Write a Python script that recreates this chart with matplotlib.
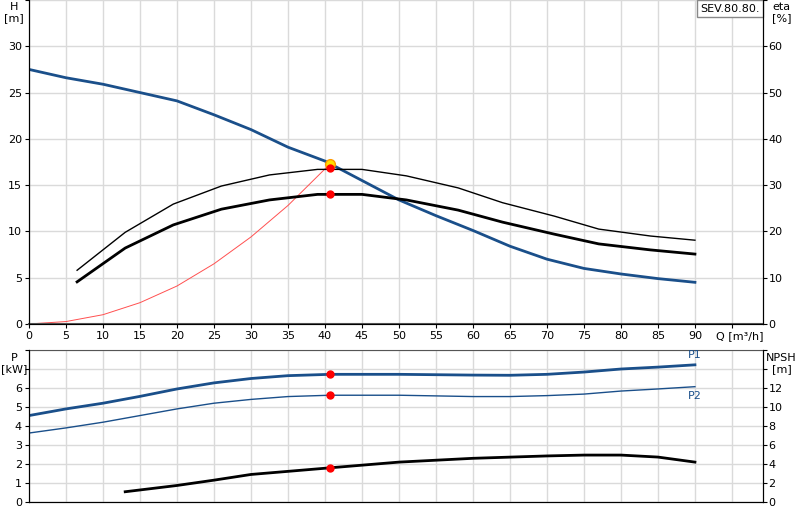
import matplotlib.pyplot as plt

# Q [m3/h]
q_h = [0, 5, 10, 15, 20, 25, 30, 35, 40, 45, 50, 55, 60, 65, 70, 75, 80, 85, 90]
h = [27.5, 26.6, 25.9, 25.0, 24.1, 22.6, 21.0, 19.1, 17.6, 15.5, 13.4, 11.7, 10.1, 8.4, 7.0, 6.0, 5.4, 4.9, 4.5]

q_eta = [6.5, 13, 19.5, 26, 32.5, 39, 45, 51, 58, 64, 71, 77, 84, 90]
eta_pump = [11.6, 19.8, 25.9, 29.8, 32.2, 33.4, 33.4, 32.0, 29.4, 26.2, 23.3, 20.5, 19.0, 18.1]
eta_tot = [9.1, 16.4, 21.4, 24.8, 26.8, 28.0, 28.0, 26.8, 24.6, 22.0, 19.4, 17.3, 16.0, 15.1]

q_sys = [0, 5, 10, 15, 20, 25, 30, 35, 40.7]
h_sys = [0, 0.26, 1.0, 2.3, 4.1, 6.5, 9.4, 12.8, 17.3]

q_p = [0, 5, 10, 15, 20, 25, 30, 35, 40.7, 50, 60, 65, 70, 75, 80, 85, 90]
p1 = [4.55, 4.9, 5.2, 5.56, 5.95, 6.27, 6.5, 6.65, 6.72, 6.72, 6.68, 6.67, 6.72, 6.84, 7.0, 7.1, 7.22]
p2 = [3.63, 3.9, 4.2, 4.55, 4.9, 5.2, 5.4, 5.55, 5.62, 5.62, 5.55, 5.55, 5.6, 5.68, 5.84, 5.95, 6.07]

q_npsh = [13, 20, 25, 30, 40.7, 50, 60, 70, 75, 80, 85, 90]
npsh = [1.08, 1.74, 2.3, 2.9, 3.6, 4.2, 4.6, 4.85, 4.94, 4.94, 4.73, 4.2]

duty_q = 40.7
duty_h = 17.3
duty_eta = [33.8, 28.1]
duty_p = [6.72, 5.62]
duty_npsh = 3.6

blue = '#1a4f8a'
grid = '#dadada'
plt.rcParams['font.family'] = 'DejaVu Sans'
plt.rcParams['font.size'] = 8

fig = plt.figure(figsize=(8, 5.2), dpi=100)
ax = fig.add_axes([0.03625, 0.377, 0.9175, 0.623])
ax2 = ax.twinx()
bx = fig.add_axes([0.03625, 0.0346, 0.9175, 0.2923])
bx2 = bx.twinx()

# curvas superiores
ax.set_xlim(0, 99.2)
ax.set_ylim(0, 35)
ax2.set_ylim(0, 70)
ax.set_xticks(range(0, 100, 5))
ax.set_xticklabels([str(v) for v in range(0, 95, 5)] + [''])
ax.set_yticks(range(0, 36, 5))
ax.set_yticklabels([str(v) for v in range(0, 35, 5)] + [''])
ax2.set_yticks(range(0, 71, 10))
ax2.set_yticklabels([str(v) for v in range(0, 70, 10)] + [''])
ax.grid(True, color=grid, linewidth=1)
ax.set_axisbelow(True)
ax.spines['top'].set_visible(False)
ax2.spines['top'].set_visible(False)
ax.spines['bottom'].set_color('#555555')
ax.spines['bottom'].set_linewidth(1.5)
ax.tick_params(length=3, pad=2)
ax2.tick_params(length=3, pad=1)

ax.plot(q_sys, h_sys, color='#ff5050', linewidth=0.7)
ax.plot(q_h, h, color=blue, linewidth=2)
ax2.plot(q_eta, eta_pump, color='black', linewidth=1)
ax2.plot(q_eta, eta_tot, color='black', linewidth=2)
ax2.plot([duty_q] * 2, duty_eta, 'o', color='red', markersize=5, zorder=5)
ax.plot(duty_q, duty_h, 'o', color='#ffe000', markeredgecolor='#ff9900', markersize=7, zorder=6)

ax.text(96, -0.75, 'Q [m³/h]', ha='center', va='top', fontsize=8)
ax.text(-2, 34.8, 'H\n[m]', ha='center', va='top', fontsize=8)
ax2.text(101.7, 69.6, 'eta\n[%]', ha='center', va='top', fontsize=8)
ax.text(98.8, 34.6, 'SEV.80.80.', ha='right', va='top', fontsize=8,
        bbox=dict(facecolor='white', edgecolor='#888888', boxstyle='square,pad=0.3'))

# curvas inferiores
bx.set_xlim(0, 99.2)
bx.set_ylim(0, 8)
bx2.set_ylim(0, 16)
bx.set_xticks(range(0, 100, 5))
bx.set_xticklabels([])
bx.tick_params(axis='x', length=0)
bx.set_yticks(range(0, 9))
bx.set_yticklabels([str(v) for v in range(0, 7)] + ['', ''])
bx2.set_yticks(range(0, 17, 2))
bx2.set_yticklabels([str(v) for v in range(0, 13, 2)] + ['', ''])
bx.grid(True, color=grid, linewidth=1)
bx.set_axisbelow(True)
bx.spines['top'].set_color('#555555')
bx2.spines['top'].set_visible(False)
bx.tick_params(axis='y', length=3, pad=2)
bx2.tick_params(length=3, pad=1)

bx.plot(q_p, p1, color=blue, linewidth=2)
bx.plot(q_p, p2, color=blue, linewidth=1)
bx2.plot(q_npsh, npsh, color='black', linewidth=2)
bx.plot([duty_q] * 2, duty_p, 'o', color='red', markersize=5, zorder=5)
bx2.plot(duty_q, duty_npsh, 'o', color='red', markersize=5, zorder=5)

bx.text(90, 7.45, 'P1', color=blue, ha='center', va='bottom', fontsize=8)
bx.text(90, 5.85, 'P2', color=blue, ha='center', va='top', fontsize=8)
bx.text(-2, 7.85, 'P\n[kW]', ha='center', va='top', fontsize=8)
bx2.text(101.7, 15.7, 'NPSH\n[m]', ha='center', va='top', fontsize=8)

fig.savefig('out.png', dpi=100)
